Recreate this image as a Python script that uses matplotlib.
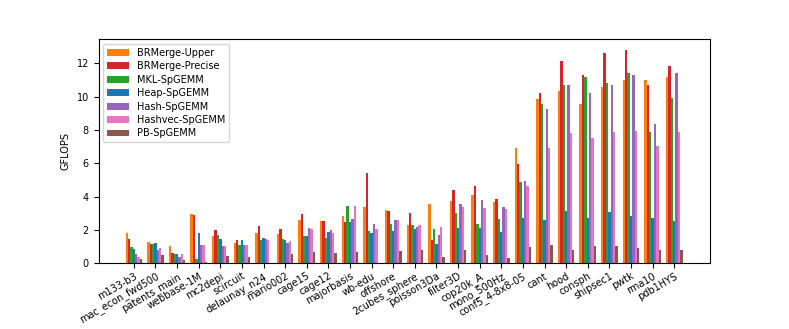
import matplotlib
matplotlib.use("Agg")
import matplotlib.pyplot as plt
import numpy as np

# categorie (matrici)
matrices = ['m133-b3', 'mac_econ_fwd500', 'patents_main', 'webbase-1M', 'mc2depi',
            'scircuit', 'delaunay_n24', 'mario002', 'cage15', 'cage12', 'majorbasis',
            'wb-edu', 'offshore', '2cubes_sphere', 'poisson3Da', 'filter3D', 'cop20k_A',
            'mono_500Hz', 'conf5_4-8x8-05', 'cant', 'hood', 'consph', 'shipsec1', 'pwtk',
            'rma10', 'pdb1HYS']

brmerge_upper = [1.84, 1.26, 1.06, 2.94, 1.62, 1.22, 1.84, 1.74, 2.60, 2.52, 2.86, 3.40, 3.18,
                 2.30, 3.54, 3.74, 4.11, 3.67, 6.91, 9.86, 10.32, 9.57, 10.60, 11.00, 11.00, 11.20]
brmerge_precise = [1.48, 1.18, 0.64, 2.92, 1.98, 1.42, 2.22, 2.04, 2.96, 2.56, 2.50, 5.40, 3.16,
                   3.02, 1.42, 4.41, 4.63, 3.87, 5.97, 10.22, 12.12, 11.30, 12.60, 12.80, 10.70, 11.82]
mkl = [0.96, 1.18, 0.54, 0.28, 1.72, 1.12, 1.38, 1.44, 1.62, 1.50, 3.46, 1.92, 2.38,
       2.32, 2.04, 3.03, 2.38, 2.64, 4.85, 9.56, 10.72, 11.20, 10.82, 11.42, 7.85, 9.94]
heap = [0.88, 1.22, 0.58, 1.84, 1.46, 1.38, 1.54, 1.40, 1.66, 1.86, 2.46, 1.84, 1.96,
        2.04, 1.14, 2.10, 2.12, 1.90, 2.70, 2.62, 3.11, 2.72, 3.06, 2.86, 2.70, 2.56]
hash_ = [0.58, 0.80, 0.36, 1.10, 1.04, 1.08, 1.46, 1.24, 2.12, 1.98, 2.64, 2.34, 2.62,
         2.20, 1.72, 3.54, 3.79, 3.40, 4.91, 9.27, 10.72, 10.22, 10.72, 11.30, 8.33, 11.42]
hashvec = [0.40, 0.90, 0.54, 1.10, 1.04, 1.08, 1.38, 1.34, 2.04, 1.84, 3.46, 2.04, 2.60,
           2.32, 2.18, 3.36, 3.31, 3.25, 4.63, 6.91, 7.81, 7.53, 7.85, 7.91, 7.03, 7.89]
pb = [0.26, 0.48, 0.18, 0.10, 0.44, 0.38, 0.0, 0.54, 0.66, 0.60, 0.70, 0.0, 0.72,
      0.78, 0.36, 0.78, 0.48, 0.30, 0.96, 1.12, 0.78, 1.02, 1.02, 0.94, 0.78, 0.82]

series = [brmerge_upper, brmerge_precise, mkl, heap, hash_, hashvec, pb]
names = ['BRMerge-Upper', 'BRMerge-Precise', 'MKL-SpGEMM', 'Heap-SpGEMM',
         'Hash-SpGEMM', 'Hashvec-SpGEMM', 'PB-SpGEMM']
colors = ['tab:orange', 'tab:red', 'tab:green', 'tab:blue', 'tab:purple', 'tab:pink', 'tab:brown']

fig, ax = plt.subplots(figsize=(7.89, 3.29), dpi=100)
fig.subplots_adjust(left=0.125, right=0.9, bottom=0.2, top=0.881)

x = np.arange(len(matrices))
w = 0.11
for i, (vals, name, c) in enumerate(zip(series, names, colors)):
    ax.bar(x + (i - 3) * w, vals, w, label=name, color=c)

ax.set_xlim(-1.63, 26.66)
ax.set_ylim(0, 13.45)
ax.set_xticks(x)
ax.set_xticklabels(matrices, rotation=30, ha='right', fontsize=7, rotation_mode='anchor')
ax.tick_params(axis='y', labelsize=7)
ax.tick_params(axis='x', pad=2)
ax.set_ylabel('GFLOPS', fontsize=7)
ax.legend(loc='upper left', fontsize=7, labelspacing=0.35, handlelength=2.2)

fig.savefig('out.png', dpi=100)
